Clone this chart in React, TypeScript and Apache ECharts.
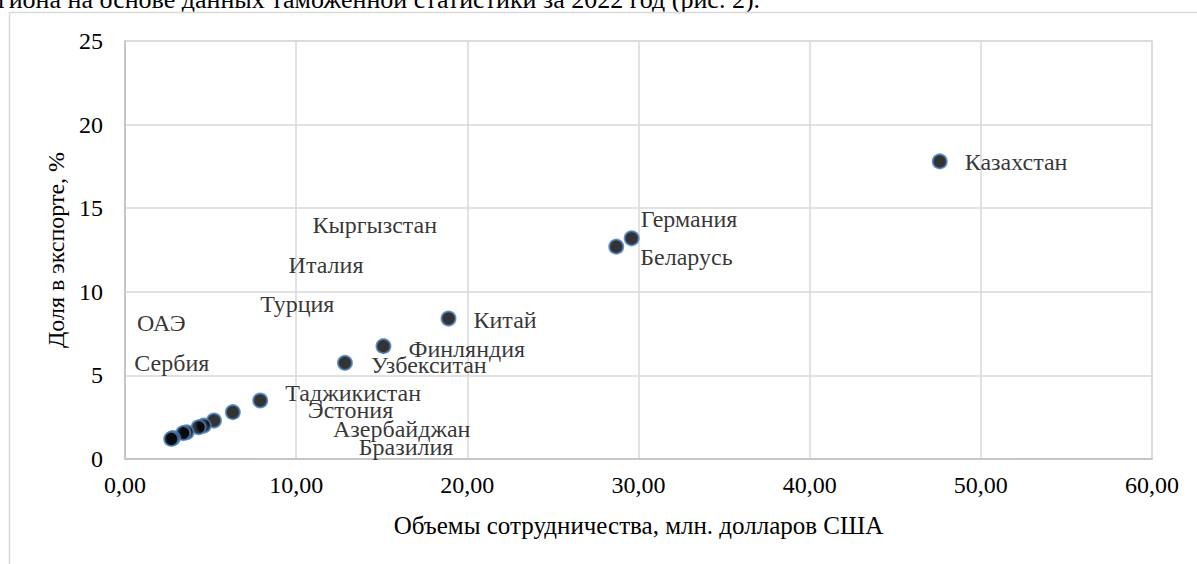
import React, { useEffect, useRef } from "react";
import * as echarts from "echarts";

const countries = [
  "Казахстан", "Германия", "Беларусь", "Китай", "Финляндия", "Узбекситан",
  "Таджикистан", "Эстония", "Азербайджан", "Бразилия", "Кыргызстан",
  "Италия", "Турция", "ОАЭ", "Сербия",
];
const volumes = [47.6, 29.6, 28.7, 18.9, 15.1, 12.85, 7.9, 6.3, 5.2, 4.6, 4.3, 3.6, 3.4, 2.8, 2.7];
const shares = [17.8, 13.2, 12.7, 8.4, 6.75, 5.75, 3.5, 2.8, 2.3, 2.0, 1.9, 1.6, 1.55, 1.25, 1.2];

// label displacement (px) relative to the default right-side position
const labelDx = [12, -4, 11, 12, 12, 13, 12, 62, 106, 142, 101, 89, 64, -49, -50];
const labelDy = [1, -19, 10, 1, 3, 2, -7, -2, 8, 21, -202, -167, -129, -115, -76];

const xAxisTitle = "Объемы сотрудничества, млн. долларов США";
const yAxisTitle = "Доля в экспорте, %";
const headerText = "гиона на основе данных таможенной статистики за 2022 год (рис. 2).";

const FONT = "'Liberation Serif', 'Times New Roman', serif";
const FS = 24;

export default function App() {
  const ref = useRef<HTMLDivElement>(null);
  useEffect(() => {
    if (!ref.current) return;
    const chart = echarts.init(ref.current, null, { renderer: "svg" });
    const data = countries.map((name, i) => ({
      name,
      value: [volumes[i], shares[i]],
    }));
    chart.setOption({
      animation: false,
      backgroundColor: "#ffffff",
      textStyle: { fontFamily: FONT },
      graphic: [
        {
          type: "text",
          x: -2,
          y: 12,
          style: {
            text: headerText,
            font: `26px ${FONT}`,
            fill: "#000",
            verticalAlign: "bottom",
          },
        },
        {
          type: "line",
          shape: { x1: 9.5, y1: 12.5, x2: 1197, y2: 12.5 },
          style: { stroke: "#d9d9d9", lineWidth: 1.5 },
        },
        {
          type: "line",
          shape: { x1: 9.5, y1: 12.5, x2: 9.5, y2: 564 },
          style: { stroke: "#d9d9d9", lineWidth: 1.5 },
        },
      ],
      grid: {
        left: 125,
        right: 45,
        top: 41,
        bottom: 105,
        show: true,
        borderColor: "#d9d9d9",
        borderWidth: 1.5,
      },
      xAxis: {
        type: "value",
        min: 0,
        max: 60,
        interval: 10,
        name: xAxisTitle,
        nameLocation: "middle",
        nameGap: 54,
        nameTextStyle: { fontFamily: FONT, fontSize: 25, color: "#000" },
        axisLine: { show: true, lineStyle: { color: "#bfbfbf", width: 1.5 } },
        axisTick: { show: false },
        splitLine: { show: true, lineStyle: { color: "#d9d9d9", width: 1.5 } },
        axisLabel: {
          fontFamily: FONT,
          fontSize: FS,
          color: "#000",
          margin: 14,
          formatter: (v: number) => v.toFixed(2).replace(".", ","),
        },
      },
      yAxis: {
        type: "value",
        min: 0,
        max: 25,
        interval: 5,
        name: yAxisTitle,
        nameLocation: "middle",
        nameGap: 56,
        nameTextStyle: { fontFamily: FONT, fontSize: FS, color: "#000" },
        axisLine: { show: true, lineStyle: { color: "#bfbfbf", width: 1.5 } },
        axisTick: { show: false },
        splitLine: { show: true, lineStyle: { color: "#d9d9d9", width: 1.5 } },
        axisLabel: { fontFamily: FONT, fontSize: FS, color: "#000", margin: 22 },
      },
      series: [
        {
          type: "scatter",
          data,
          symbol: "circle",
          symbolSize: 14,
          itemStyle: { color: "#000000", borderColor: "#4a7ebb", borderWidth: 2 },
          label: {
            show: true,
            position: "right",
            distance: 5,
            formatter: (p: any) => p.name,
            fontFamily: FONT,
            fontSize: FS,
            color: "#000",
          },
          labelLayout: (params: any) => ({
            dx: labelDx[params.dataIndex],
            dy: labelDy[params.dataIndex],
            hideOverlap: false,
          }),
        },
      ],
    });
    return () => chart.dispose();
  }, []);
  return (
    <div
      ref={ref}
      style={{ position: "absolute", left: 0, top: 0, width: 1197, height: 564, background: "#fff" }}
    />
  );
}
